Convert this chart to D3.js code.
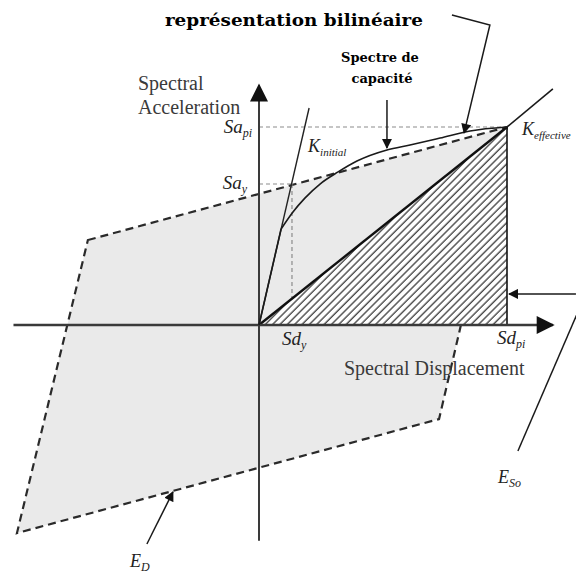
<!DOCTYPE html>
<html>
<head>
<meta charset="utf-8">
<script src="https://cdn.jsdelivr.net/npm/d3@7"></script>
<style>
  body { margin: 0; background: #fff; }
  text { font-family: "Liberation Serif", "Times New Roman", serif; }
</style>
</head>
<body>
<div id="chart"></div>
<script>
// capacity spectrum, Sd / Sa in relative units (Sd_pi = Sa_pi = 10)
var capacitySd = [0, 0.89, 1.37, 1.85, 2.46, 3.19, 3.95, 5.16, 6.09, 7.30, 8.51, 10, 11.85];
var capacitySa = [0, 4.85, 5.71, 6.41, 7.12, 7.73, 8.28, 8.84, 9.09, 9.44, 9.80, 10, 11.92];

// hysteresis loop whose area is E_D
var loopSd = [-6.90, 10, 7.26, -9.76];
var loopSa = [4.29, 10, -4.75, -10.51];

// bilinear representation
var yieldPt = [1.33, 7.12];      // Sd_y, Sa_y
var perfPt = [10, 10];           // Sd_pi, Sa_pi
var kInitialEnd = [2.02, 10.96];

var axisSd = [-9.9, 11.85];
var axisSa = [-10.9, 12.1];

// callout lines
var noteBilin = [[7.78, 15.66], [9.31, 15.15], [8.27, 9.70]];
var noteCapacity = [[5.16, 11.36], [5.16, 8.94]];
var noteEsoArrow = [[12.78, 1.57], [10.08, 1.57]];
var noteEsoLine = [[12.86, 0.66], [10.44, -6.36]];
var noteEd = [[-4.52, -11.06], [-3.47, -8.43]];

var W = 576, H = 576;

var x = d3.scaleLinear().domain([0, 10]).range([259, 507]);
var y = d3.scaleLinear().domain([0, 10]).range([325, 127]);

var svg = d3.select("#chart").append("svg")
  .attr("width", W).attr("height", H);

var defs = svg.append("defs");

// hatching for E_So
var pat = defs.append("pattern")
  .attr("id", "hatch")
  .attr("patternUnits", "userSpaceOnUse")
  .attr("width", 5.2).attr("height", 10)
  .attr("patternTransform", "rotate(45)");
pat.append("rect").attr("width", 5.2).attr("height", 10).attr("fill", "#fff");
pat.append("line")
  .attr("x1", 1).attr("y1", 0).attr("x2", 1).attr("y2", 10)
  .attr("stroke", "#2b2b2b").attr("stroke-width", 1.2);

function arrowMarker(id, len, wid) {
  defs.append("marker")
    .attr("id", id)
    .attr("viewBox", "0 0 10 10")
    .attr("refX", 9).attr("refY", 5)
    .attr("markerUnits", "userSpaceOnUse")
    .attr("markerWidth", len).attr("markerHeight", wid)
    .attr("orient", "auto")
    .append("path").attr("d", "M0,0L10,5L0,10Z").attr("fill", "#111");
}
arrowMarker("bigArrow", 19, 18);
arrowMarker("smallArrow", 11, 10);

var line = d3.line().x(function(d){ return x(d[0]); }).y(function(d){ return y(d[1]); });

// E_D loop
var loopPts = loopSd.map(function(d, i){ return [d, loopSa[i]]; });
svg.append("path")
  .attr("d", line(loopPts) + "Z")
  .attr("fill", "#eaeaea")
  .attr("stroke", "#2a2a2a")
  .attr("stroke-width", 2.2)
  .attr("stroke-dasharray", "8,5");

// thin guide lines
var guide = svg.append("g")
  .attr("stroke", "#8c8c8c").attr("stroke-width", 1.2)
  .attr("stroke-dasharray", "4,3").attr("fill", "none");
guide.append("path").attr("d", line([[0, perfPt[1]], perfPt]));
guide.append("path").attr("d", line([[0, yieldPt[1]], yieldPt]));
guide.append("path").attr("d", line([yieldPt, [yieldPt[0], 0]]));

// E_So hatched triangle
svg.append("path")
  .attr("d", line([[0, 0], [perfPt[0], 0], perfPt]) + "Z")
  .attr("fill", "url(#hatch)");
svg.append("path")
  .attr("d", line([[0, 0], perfPt]))
  .attr("stroke", "#111").attr("stroke-width", 2.4);
svg.append("path")
  .attr("d", line([perfPt, [perfPt[0], 0]]))
  .attr("stroke", "#111").attr("stroke-width", 1.6);

// axes
svg.append("path")
  .attr("d", line([[axisSd[0], 0], [axisSd[1], 0]]))
  .attr("stroke", "#3a3a3a").attr("stroke-width", 2.4)
  .attr("marker-end", "url(#bigArrow)");
svg.append("path")
  .attr("d", line([[0, axisSa[0]], [0, axisSa[1]]]))
  .attr("stroke", "#3a3a3a").attr("stroke-width", 2)
  .attr("marker-end", "url(#bigArrow)");

// K initial
svg.append("path")
  .attr("d", line([[0, 0], kInitialEnd]))
  .attr("stroke", "#222").attr("stroke-width", 1.4);

// capacity spectrum
var capPts = capacitySd.map(function(d, i){ return [d, capacitySa[i]]; });
var n = capPts.length;
var cap = svg.append("g").attr("fill", "none").attr("stroke", "#1a1a1a").attr("stroke-width", 1.6);
cap.append("path").attr("d", line(capPts.slice(0, 2)));
cap.append("path").attr("d", line.curve(d3.curveMonotoneX)(capPts.slice(1, n - 1)));
line.curve(d3.curveLinear);
cap.append("path").attr("d", line(capPts.slice(n - 2)));

// callouts
var notes = svg.append("g").attr("fill", "none").attr("stroke", "#1a1a1a").attr("stroke-width", 1.5);
notes.append("path").attr("d", line(noteBilin)).attr("marker-end", "url(#smallArrow)");
notes.append("path").attr("d", line(noteCapacity)).attr("marker-end", "url(#smallArrow)");
notes.append("path").attr("d", line(noteEsoArrow)).attr("marker-end", "url(#smallArrow)");
notes.append("path").attr("d", line(noteEsoLine));
notes.append("path").attr("d", line(noteEd)).attr("marker-end", "url(#smallArrow)");

// texts
svg.append("text")
  .attr("x", x(noteBilin[0][0]) - 29).attr("y", y(noteBilin[0][1]) + 11)
  .attr("text-anchor", "end")
  .style("font-family", "'DejaVu Serif', serif")
  .style("font-weight", "bold").style("font-size", "17px")
  .attr("textLength", 258).attr("lengthAdjust", "spacingAndGlyphs")
  .text("représentation bilinéaire");

var spec = svg.append("text")
  .attr("text-anchor", "middle")
  .style("font-family", "'DejaVu Serif', serif")
  .style("font-weight", "bold").style("font-size", "13px");
spec.append("tspan").attr("x", x(noteCapacity[0][0]) - 7).attr("y", 62).text("Spectre de");
spec.append("tspan").attr("x", x(noteCapacity[0][0]) - 5).attr("y", 83).text("capacité");

var axTitle = svg.append("g").attr("fill", "#3a3a3a").style("font-size", "20px");
axTitle.append("text").attr("x", 138).attr("y", 90).text("Spectral");
axTitle.append("text").attr("x", 138).attr("y", 114).text("Acceleration");
axTitle.append("text").attr("x", 344).attr("y", 375).text("Spectral Displacement");

function subLabel(px, py, main, sub, anchor, size, subSize) {
  var t = svg.append("text")
    .attr("x", px).attr("y", py)
    .attr("text-anchor", anchor || "start")
    .attr("fill", "#222")
    .style("font-style", "italic").style("font-size", (size || 19) + "px");
  t.append("tspan").text(main);
  t.append("tspan").attr("dy", 4).style("font-size", (subSize || 12) + "px").text(sub);
}
subLabel(x(0) - 7, y(perfPt[1]) + 6, "Sa", "pi", "end");
subLabel(x(0) - 12, y(yieldPt[1]) + 5, "Sa", "y", "end");
subLabel(x(yieldPt[0]) - 10, y(0) + 20, "Sd", "y");
subLabel(x(perfPt[0]) - 10, y(0) + 19, "Sd", "pi");
subLabel(x(kInitialEnd[0]) - 1, 152, "K", "initial", "start", 18, 11);
subLabel(x(perfPt[0]) + 15, y(perfPt[1]) + 8, "K", "effective", "start", 18, 11);
subLabel(x(noteEsoLine[1][0]) - 20, y(noteEsoLine[1][1]) + 32, "E", "So", "start", 18, 12);
subLabel(x(noteEd[0][0]) - 17, y(noteEd[0][1]) + 23, "E", "D", "start", 18, 12);
</script>
</body>
</html>
